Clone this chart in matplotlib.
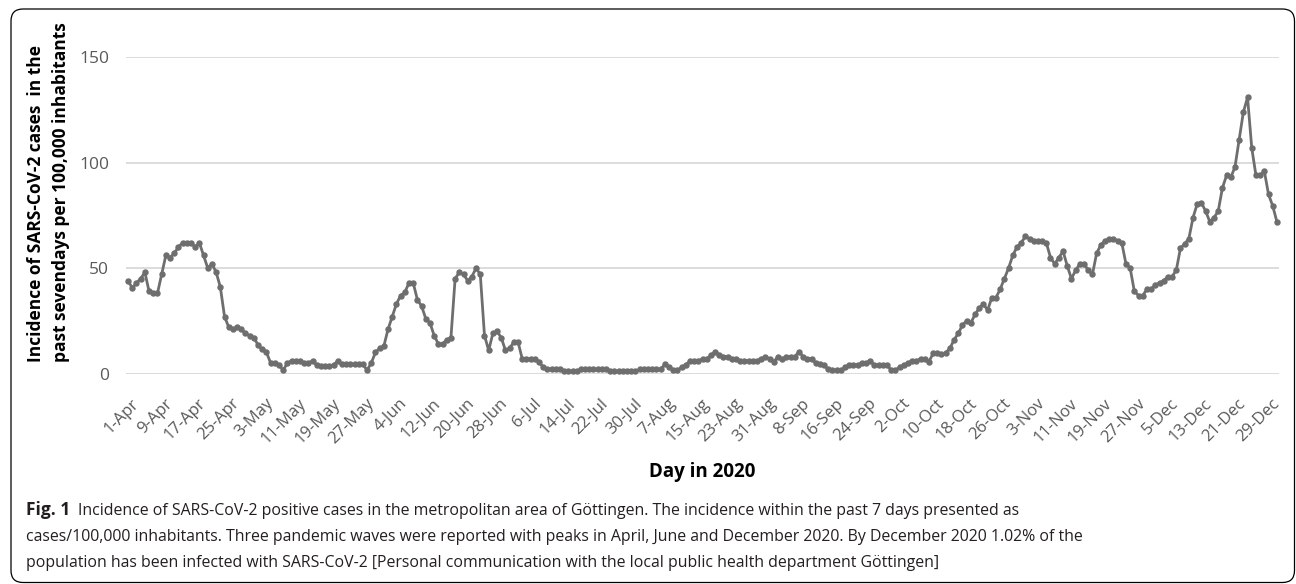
import matplotlib
matplotlib.use("Agg")
import matplotlib.pyplot as plt
from matplotlib.patches import FancyBboxPatch
from matplotlib.transforms import IdentityTransform, ScaledTranslation
import numpy as np

# 7-day incidence per 100,000 inhabitants, one value per day (1-Apr .. 31-Dec 2020)
apr = [44, 40.5, 43, 45, 48, 39, 38, 38, 47, 56, 55, 57, 60, 62, 62, 62, 60, 62, 56, 50,
       52, 48, 41, 27, 22, 21, 22, 21, 19, 18]
may = [17, 13.5, 11.5, 10, 5, 5, 4, 1.6, 5, 6, 6, 6, 5, 5, 6, 4, 3.5, 3.5, 3.5, 4,
       6, 4.3, 4.3, 4.3, 4.3, 4.3, 4.3, 1.6, 5, 10, 12]
jun = [13, 21, 27, 33, 37, 38.5, 43, 43, 35, 32, 26, 24, 18, 14, 14, 16, 17, 45, 48, 47,
       44, 46, 50, 47, 18, 11, 19, 20, 17, 11]
jul = [12, 15, 15, 7, 7, 7, 7, 5.5, 3, 2, 2, 2, 2, 1, 1, 1, 1, 2, 2, 2,
       2, 2, 2, 2, 1, 1, 1, 1, 1, 1, 1]
aug = [2, 2, 2, 2, 2, 2, 4.3, 3.2, 1.6, 1.6, 2.9, 4, 6, 6, 6, 7, 7, 8.7, 10.3, 9,
       8, 8, 7, 7, 6, 6, 6, 6, 6, 7, 8]
sep = [7, 5.6, 8, 6.8, 8, 8, 8, 10.3, 8, 7, 7, 5, 4.3, 4, 1.9, 1.6, 1.6, 1.6, 2.9, 4,
       4, 4, 5, 5, 6, 4, 4, 4, 4, 1.6]
oct_ = [1.6, 2.9, 4, 5, 6, 6, 7, 7, 5.6, 9.5, 9.5, 9.2, 9.8, 11.9, 16, 19, 23, 25, 24, 28,
        31, 33, 30, 36, 36, 40, 45, 50, 56, 60, 62]
nov = [65, 64, 63, 63, 63, 62, 55, 52, 55, 58, 51, 45, 49, 52, 52, 49, 47, 57, 61, 63,
       64, 64, 63, 62, 52, 50, 39, 37, 37, 40]
dec = [40, 42, 43, 44, 46, 46, 49, 59.5, 61.5, 64, 74, 80.5, 81, 77, 72, 74, 77, 88, 94, 93,
       98, 111, 124, 131, 107, 94, 94, 96, 85, 79.5, 72]

incidence = apr + may + jun + jul + aug + sep + oct_ + nov + dec

tick_labels = ["1-Apr", "9-Apr", "17-Apr", "25-Apr", "3-May", "11-May", "19-May", "27-May",
               "4-Jun", "12-Jun", "20-Jun", "28-Jun", "6-Jul", "14-Jul", "22-Jul", "30-Jul",
               "7-Aug", "15-Aug", "23-Aug", "31-Aug", "8-Sep", "16-Sep", "24-Sep", "2-Oct",
               "10-Oct", "18-Oct", "26-Oct", "3-Nov", "11-Nov", "19-Nov", "27-Nov", "5-Dec",
               "13-Dec", "21-Dec", "29-Dec"]
y_ticks = [0, 50, 100, 150]

ylabel = "Incidence of SARS-CoV-2 cases  in the\npast sevendays per 100,000 inhabitants"
xlabel = "Day in 2020"
cap_bold = "Fig. 1"
cap_lines = [
    "Incidence of SARS-CoV-2 positive cases in the metropolitan area of Göttingen. The incidence within the past 7 days presented as",
    "cases/100,000 inhabitants. Three pandemic waves were reported with peaks in April, June and December 2020. By December 2020 1.02% of the",
    "population has been infected with SARS-CoV-2 [Personal communication with the local public health department Göttingen]",
]

plt.rcParams['font.family'] = ['Open Sans', 'DejaVu Sans']

W, H = 1296, 584
fig = plt.figure(figsize=(W / 100, H / 100), dpi=100)
fig.patch.set_facecolor('white')

ax = fig.add_axes([126 / W, 1 - 373.5 / H, (1279 - 126) / W, (373.5 - 57.3) / H])
x = np.arange(len(incidence))
ax.plot(x, incidence, color='#6e6e6e', lw=2.0, marker='o', ms=3.6,
        markerfacecolor='#6e6e6e', markeredgecolor='#6e6e6e', clip_on=False, zorder=3)
ax.set_xlim(-0.5, len(incidence) - 0.5)
ax.set_ylim(0, 150)
ax.set_yticks(y_ticks)
ax.yaxis.grid(True, color='#d9d9d9', lw=1.3)
ax.set_axisbelow(True)
for s in ax.spines.values():
    s.set_visible(False)
ax.tick_params(length=0)
ax.tick_params(axis='y', labelsize=12.5, labelcolor='#595959', pad=12)
ax.set_xticks(np.arange(0, len(incidence), 8))
ax.set_xticklabels(tick_labels, rotation=45, ha='right', va='center',
                   rotation_mode='anchor', fontsize=12, color='#595959')
ax.tick_params(axis='x', pad=20)
shift = ScaledTranslation(6 / 72, 0, fig.dpi_scale_trans)
for lab in ax.get_xticklabels():
    lab.set_transform(lab.get_transform() + shift)

fig.text(48.5 / W, 1 - 362 / H, ylabel, rotation=90, ha='center', va='bottom',
         multialignment='left', fontsize=12.5, fontweight='bold', linespacing=1.45)
fig.text(702 / W, 1 - 472 / H, xlabel, ha='center', va='center',
         fontsize=13.5, fontweight='bold')

cap_color = '#231f20'
fig.text(26 / W, 1 - 515 / H, cap_bold, fontsize=12.5, fontweight='bold', va='baseline',
         color=cap_color)
fig.text(78 / W, 1 - 515 / H, cap_lines[0], fontsize=11.4, va='baseline', color=cap_color)
fig.text(26 / W, 1 - 541 / H, cap_lines[1], fontsize=11.4, va='baseline', color=cap_color)
fig.text(26 / W, 1 - 567 / H, cap_lines[2], fontsize=11.4, va='baseline', color=cap_color)

box = FancyBboxPatch((11, 1.5), 1283.5, 573.5, boxstyle='round,pad=0,rounding_size=12',
                     transform=IdentityTransform(), fill=False, ec='black', lw=0.9)
fig.add_artist(box)

fig.savefig('out.png', dpi=100)
